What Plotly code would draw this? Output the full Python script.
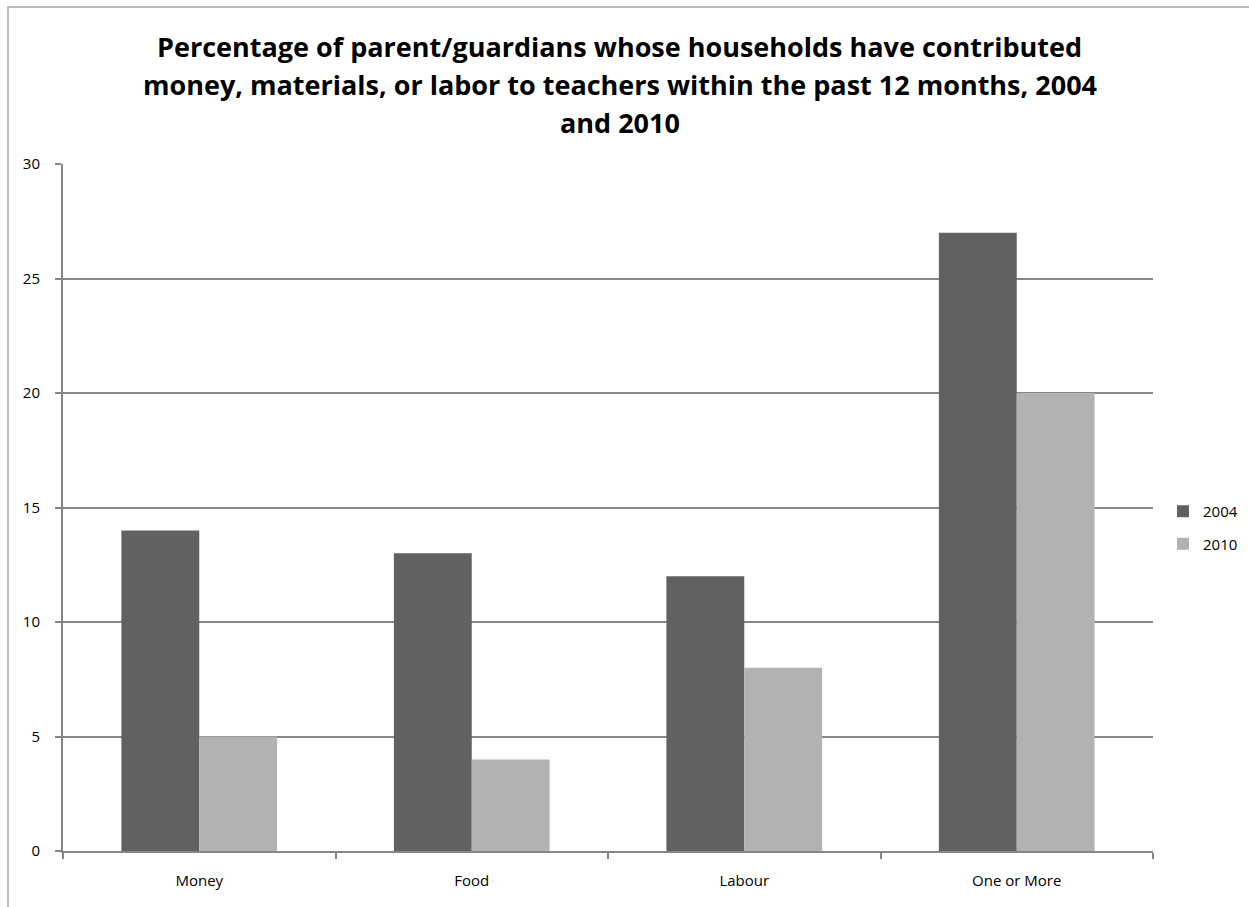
import plotly.graph_objects as go

categories = ["Money", "Food", "Labour", "One or More"]
values_2004 = [14, 13, 12, 27]
values_2010 = [5, 4, 8, 20]
y_ticks = [0, 5, 10, 15, 20, 25, 30]
title_lines = [
    "Percentage of parent/guardians whose households have contributed",
    "money, materials, or labor to teachers within the past 12 months, 2004",
    "and 2010",
]

FONT = "'Open Sans', Lato, sans-serif"
AXIS_GREY = "#868686"

fig = go.Figure()
fig.add_trace(go.Bar(x=categories, y=values_2004, name="2004",
                     marker=dict(color="#616161", line=dict(width=0)),
                     legendgroup="a"))
fig.add_trace(go.Bar(x=categories, y=values_2010, name="2010",
                     marker=dict(color="#b2b2b2", line=dict(width=0)),
                     legendgroup="b"))

# Three-line bold heading above the plot
for i, line in enumerate(title_lines):
    fig.add_annotation(text=f"<b>{line}</b>", xref="paper", yref="paper",
                       x=0.511, y=(851 - (47 + 38 * i)) / 687,
                       xanchor="center", yanchor="middle", showarrow=False,
                       font=dict(family=FONT, size=27, color="#000000"))

# Outer chart frame (left and top edges)
fig.add_shape(type="rect", xref="paper", yref="paper",
              x0=(8 - 63) / 1090, x1=2.0, y0=-1.0, y1=(851 - 7) / 687,
              line=dict(color="#a6a6a6", width=1.5), fillcolor="rgba(0,0,0,0)",
              layer="below")

fig.update_layout(
    width=1249, height=907,
    margin=dict(l=63, r=96, t=164, b=56, pad=0, autoexpand=False),
    paper_bgcolor="white", plot_bgcolor="white",
    barmode="group", bargap=1.5 / 3.5, bargroupgap=0,
    font=dict(family=FONT, size=15, color="#000000"),
    showlegend=True,
    legend=dict(x=(1163 - 63) / 1090, y=(851 - 495) / 687, xanchor="left", yanchor="top",
                traceorder="grouped", tracegroupgap=10,
                font=dict(family=FONT, size=15), itemwidth=30,
                bgcolor="rgba(0,0,0,0)"),
    xaxis=dict(type="category", tickson="boundaries", ticks="outside",
               ticklen=6, tickwidth=2, tickcolor=AXIS_GREY,
               showline=True, linecolor=AXIS_GREY, linewidth=2,
               showgrid=False, ticklabelstandoff=15,
               tickfont=dict(family=FONT, size=15)),
    yaxis=dict(range=[0, 30], tickvals=y_ticks, ticks="outside",
               ticklen=6, tickwidth=2, tickcolor=AXIS_GREY,
               showline=True, linecolor=AXIS_GREY, linewidth=2,
               showgrid=True, gridcolor=AXIS_GREY, gridwidth=2,
               zeroline=False, ticklabelstandoff=12,
               tickfont=dict(family=FONT, size=15)),
)

fig.write_html("out.html")
